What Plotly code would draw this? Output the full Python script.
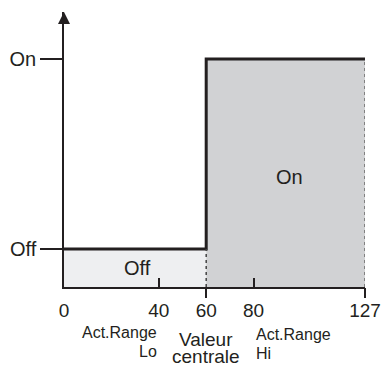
import plotly.graph_objects as go

# Valeurs du diagramme
NIVEAUX = {"Off": 1, "On": 6}
X_MAX = 127
VALEUR_CENTRALE = 60
TICKS_LABELS = [0, 40, 60, 80, 127]
TICKS_HAUT = [40, 80]        # ticks vers l'intérieur
TICKS_BAS = [60, 127]        # ticks vers l'extérieur
Y_HAUT = 7.24                # sommet de la flèche

COUL_LIGNE = "#231f20"
COUL_ON = "#d1d2d4"
COUL_OFF = "#eeeff1"
POLICE = "Liberation Sans, Arial, sans-serif"

off, on = NIVEAUX["Off"], NIVEAUX["On"]

fig = go.Figure()

# Zones remplies
fig.add_trace(go.Scatter(
    x=[0, VALEUR_CENTRALE, VALEUR_CENTRALE, 0], y=[0, 0, off, off],
    fill="toself", fillcolor=COUL_OFF, mode="lines", line=dict(width=0),
    hoverinfo="skip",
))
fig.add_trace(go.Scatter(
    x=[VALEUR_CENTRALE, X_MAX, X_MAX, VALEUR_CENTRALE], y=[0, 0, on, on],
    fill="toself", fillcolor=COUL_ON, mode="lines", line=dict(width=0),
    hoverinfo="skip",
))

# Courbe en escalier
fig.add_trace(go.Scatter(
    x=[0, VALEUR_CENTRALE, VALEUR_CENTRALE, X_MAX], y=[off, off, on, on],
    mode="lines", line=dict(color=COUL_LIGNE, width=3), hoverinfo="skip",
))

# Pointillés verticaux (sur xaxis2)
fig.add_trace(go.Scatter(
    x=[VALEUR_CENTRALE, VALEUR_CENTRALE], y=[0, off], xaxis="x2",
    mode="lines", line=dict(color="#444", width=1.5, dash="dot"), hoverinfo="skip",
))
fig.add_trace(go.Scatter(
    x=[X_MAX, X_MAX], y=[0, on], xaxis="x2",
    mode="lines", line=dict(color="#666", width=1.5, dash="dot"), hoverinfo="skip",
))

# Flèche de l'axe Y (sur xaxis3)
fig.add_trace(go.Scatter(
    x=[0], y=[Y_HAUT], xaxis="x3", mode="markers",
    marker=dict(symbol="arrow-up", size=12, color=COUL_LIGNE, line=dict(width=0)),
    cliponaxis=False, hoverinfo="skip",
))

axe_commun = dict(range=[0, X_MAX], showgrid=False, zeroline=False,
                  fixedrange=True, automargin=False)

fig.update_layout(
    width=383, height=367,
    margin=dict(l=64, r=18, t=12, b=80),
    paper_bgcolor="white", plot_bgcolor="white",
    showlegend=False,
    font=dict(family=POLICE, color=COUL_LIGNE),
    xaxis=dict(
        **axe_commun,
        tickvals=TICKS_LABELS, ticktext=[str(v) for v in TICKS_LABELS],
        ticks="", showline=True, linecolor=COUL_LIGNE, linewidth=1.5,
        tickfont=dict(size=19, family=POLICE, color=COUL_LIGNE),
        ticklabelstandoff=5,
    ),
    xaxis2=dict(
        **axe_commun, overlaying="x", anchor="y", side="bottom",
        tickvals=TICKS_BAS, ticks="outside", ticklen=10, tickwidth=1.5,
        tickcolor=COUL_LIGNE, showticklabels=False, showline=False,
    ),
    xaxis3=dict(
        **axe_commun, overlaying="x", anchor="y", side="bottom",
        tickvals=TICKS_HAUT, ticks="inside", ticklen=9, tickwidth=1.5,
        tickcolor=COUL_LIGNE, showticklabels=False, showline=False,
    ),
    yaxis=dict(
        range=[0, Y_HAUT], showgrid=False, zeroline=False, fixedrange=True,
        automargin=False,
        tickvals=list(NIVEAUX.values()), ticktext=list(NIVEAUX.keys()),
        ticks="outside", ticklen=22, tickwidth=1.5, tickcolor=COUL_LIGNE,
        showline=True, linecolor=COUL_LIGNE, linewidth=1.5,
        tickfont=dict(size=20, family=POLICE, color=COUL_LIGNE),
    ),
)

# Étiquettes des zones
fig.add_annotation(x=31, y=off / 2, text="Off", showarrow=False,
                   font=dict(size=20, family=POLICE, color=COUL_LIGNE))
fig.add_annotation(x=95, y=2.9, text="On", showarrow=False,
                   font=dict(size=20, family=POLICE, color=COUL_LIGNE))


def py(pixel):
    # pixel vertical -> coordonnée paper
    return (287 - pixel) / 275


# Légendes sous l'axe
legendes = [
    ("Act.Range", 40, "right", 332, 16),
    ("Lo", 40, "right", 351, 16),
    ("Valeur", VALEUR_CENTRALE, "center", 339.5, 19),
    ("centrale", VALEUR_CENTRALE, "center", 357, 19),
    ("Act.Range", 80, "left", 334, 16),
    ("Hi", 80, "left", 353, 16),
]
for texte, x, ancre, pix, taille in legendes:
    fig.add_annotation(
        x=x, xref="x", y=py(pix), yref="paper", text=texte, showarrow=False,
        xanchor=ancre, yanchor="middle",
        font=dict(size=taille, family=POLICE, color=COUL_LIGNE),
    )

# le body HTML a une marge de 8px par défaut
fig.write_html("out.html", config={"displayModeBar": False},
               post_script="document.body.style.margin='0px';")
